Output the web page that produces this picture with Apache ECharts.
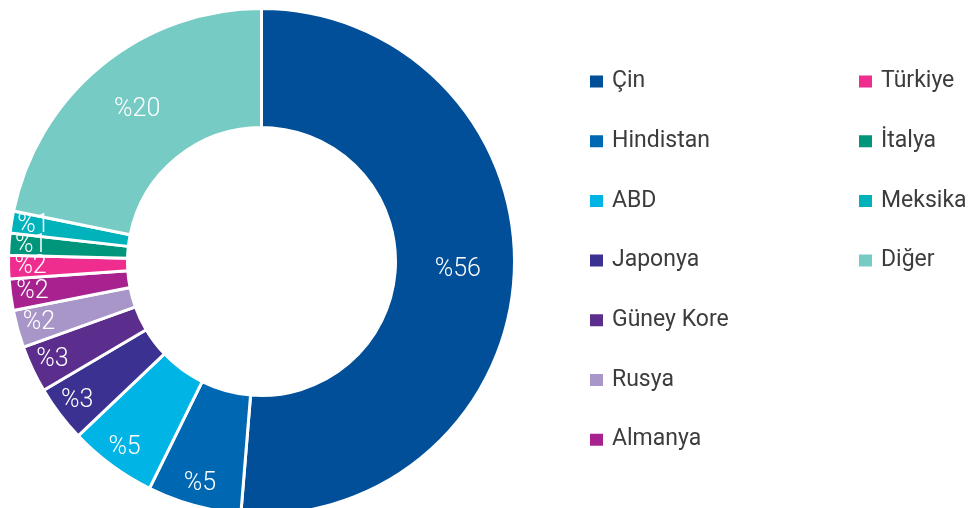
<!DOCTYPE html>
<html>
<head>
<meta charset="utf-8">
<script src="https://cdn.jsdelivr.net/npm/echarts@6/dist/echarts.min.js"></script>
<style>
  html, body { margin: 0; padding: 0; background: #fff; }
  #chart { width: 969px; height: 508px; }
</style>
</head>
<body>
<div id="chart"></div>
<script>
// slice shares (angles), labels as printed
let countries = ['Çin', 'Hindistan', 'ABD', 'Japonya', 'Güney Kore', 'Rusya', 'Almanya', 'Türkiye', 'İtalya', 'Meksika', 'Diğer'];
let shares = [51.3, 6.0, 5.6, 3.6, 3.0, 2.4, 2.0, 1.5, 1.4, 1.4, 21.8];
let shareLabels = ['%56', '%5', '%5', '%3', '%3', '%2', '%2', '%2', '%1', '%1', '%20'];
let colors = ['#004f98', '#0067b2', '#00b4e6', '#3a3190', '#5b2d8c', '#a996c8', '#a7228f', '#ee2d8f', '#00967b', '#00b3bb', '#76cbc4'];

let labelFont = {
  color: '#fff',
  fontSize: 25,
  fontFamily: 'Roboto',
  fontWeight: 300
};

let mainData = countries.map((name, i) => ({
  name: name,
  value: shares[i],
  itemStyle: { color: colors[i] },
  label: { show: shares[i] > 10 }
}));
// same slices again on a thinner outer ring, only to carry the small labels
let outerData = countries.map((name, i) => ({
  name: name,
  value: shares[i],
  label: { show: shares[i] <= 10 }
}));

let legendCommon = {
  orient: 'vertical',
  icon: 'rect',
  itemWidth: 15,
  itemHeight: 14,
  itemGap: 32.7,
  selectedMode: false,
  textStyle: {
    color: '#3c3c3c',
    fontSize: 23,
    fontFamily: 'Roboto',
    lineHeight: 24,
    padding: [3, 0, 0, 3]
  }
};

let chart = echarts.init(document.getElementById('chart'));
chart.setOption({
  animation: false,
  color: colors,
  legend: [
    Object.assign({}, legendCommon, { left: 583, top: 63, data: countries.slice(0, 7) }),
    Object.assign({}, legendCommon, { left: 852, top: 63, data: countries.slice(7) })
  ],
  series: [
    {
      type: 'pie',
      center: [261.5, 261.5],
      radius: [134, 253],
      startAngle: 90,
      clockwise: true,
      avoidLabelOverlap: false,
      silent: true,
      itemStyle: { borderColor: '#fff', borderWidth: 3 },
      label: Object.assign({ position: 'inside', formatter: p => shareLabels[p.dataIndex] }, labelFont),
      labelLine: { show: false },
      labelLayout: { hideOverlap: false },
      data: mainData
    },
    {
      type: 'pie',
      center: [261.5, 261.5],
      radius: [206, 250],
      startAngle: 90,
      clockwise: true,
      avoidLabelOverlap: false,
      silent: true,
      itemStyle: { color: 'rgba(0,0,0,0)' },
      label: Object.assign({ position: 'inside', formatter: p => shareLabels[p.dataIndex] }, labelFont),
      labelLine: { show: false },
      labelLayout: { hideOverlap: false },
      data: outerData
    }
  ]
});
</script>
</body>
</html>
